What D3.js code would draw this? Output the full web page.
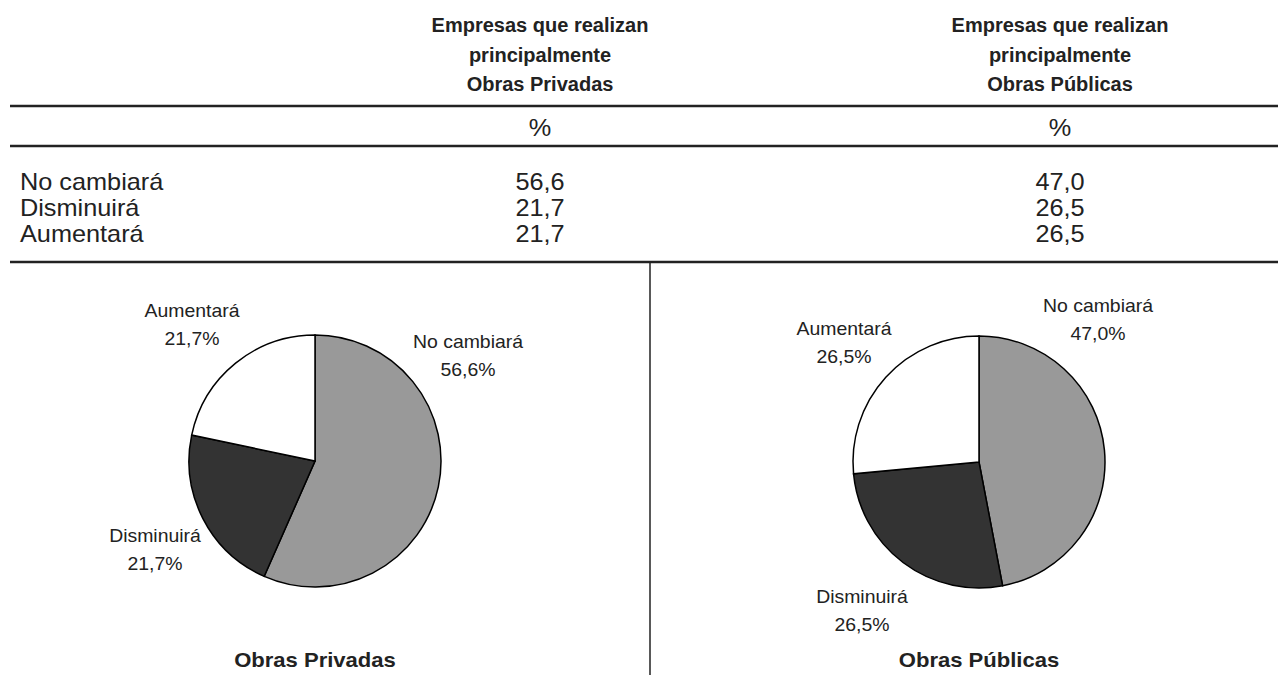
<!DOCTYPE html>
<html>
<head>
<meta charset="utf-8">
<script src="https://cdn.jsdelivr.net/npm/d3@7"></script>
<style>
  body { margin: 0; background: #fff; }
  text { font-family: "Liberation Sans", Arial, sans-serif; fill: #222; }
</style>
</head>
<body>
<div class="chart"></div>
<script>
// data
let categories = ["No cambiará", "Disminuirá", "Aumentará"];
let privadas = [56.6, 21.7, 21.7];
let publicas = [47.0, 26.5, 26.5];
let headers = [
  ["Empresas que realizan", "principalmente", "Obras Privadas"],
  ["Empresas que realizan", "principalmente", "Obras Públicas"]
];
let pieTitles = ["Obras Privadas", "Obras Públicas"];
let sliceColors = ["#999999", "#333333", "#ffffff"];

let svgW = 1278, svgH = 675;
let svg = d3.select(".chart").append("svg")
  .attr("width", svgW).attr("height", svgH);

let fmt = v => v.toFixed(1).replace(".", ",");

// text helper: the source font is a bit wider than Arial, so stretch x
function txt(parent, x, y, s, size, sx, anchor, bold) {
  return parent.append("text")
    .attr("transform", `translate(${x}, ${y}) scale(${sx}, 1)`)
    .attr("text-anchor", anchor || "middle")
    .style("font-size", size + "px")
    .style("font-weight", bold ? "bold" : "normal")
    .text(s);
}

// table columns
let colX = [540, 1060];

headers.forEach((lines, i) => {
  lines.forEach((l, j) => {
    txt(svg, colX[i], 32 + j * 29.5, l, 20, 1, "middle", true);
  });
  txt(svg, colX[i], 136, "%", 23, 1.1);
});

// rule lines
[106, 146, 262].forEach(y => {
  svg.append("line").attr("x1", 10).attr("x2", svgW).attr("y1", y).attr("y2", y)
    .attr("stroke", "#222").attr("stroke-width", 2.5);
});
svg.append("line").attr("x1", 650).attr("x2", 650).attr("y1", 262).attr("y2", svgH)
  .attr("stroke", "#222").attr("stroke-width", 1.5);

// table rows
let rowY = d3.scalePoint().domain(categories).range([190, 242]);
categories.forEach((c, i) => {
  txt(svg, 20, rowY(c), c, 23, 1.1, "start");
  [privadas, publicas].forEach((series, k) => {
    txt(svg, colX[k], rowY(c), fmt(series[i]), 23, 1.1);
  });
});

// pies
let pie = d3.pie().sort(null).value(d => d);
let radius = 126;
let arc = d3.arc().innerRadius(0).outerRadius(radius);
let centers = [[315, 461], [979, 462]];

// label anchor positions relative to pie centre (same order as categories)
let labelPos = [
  [[153, -113], [-160, 81], [-123, -144]],
  [[119, -150], [-117, 141], [-135, -127]]
];

[privadas, publicas].forEach((series, k) => {
  let g = svg.append("g")
    .attr("transform", `translate(${centers[k][0]}, ${centers[k][1]})`);

  g.selectAll("path")
    .data(pie(series))
    .enter()
    .append("path")
    .attr("d", arc)
    .attr("fill", (d, i) => sliceColors[i])
    .attr("stroke", "#000")
    .attr("stroke-width", 1.5);

  series.forEach((v, i) => {
    let [lx, ly] = labelPos[k][i];
    txt(g, lx, ly, categories[i], 18, 1.08);
    txt(g, lx, ly + 28, fmt(v) + "%", 18, 1.08);
  });

  txt(svg, centers[k][0], 667, pieTitles[k], 21, 1.05, "middle", true);
});
</script>
</body>
</html>
